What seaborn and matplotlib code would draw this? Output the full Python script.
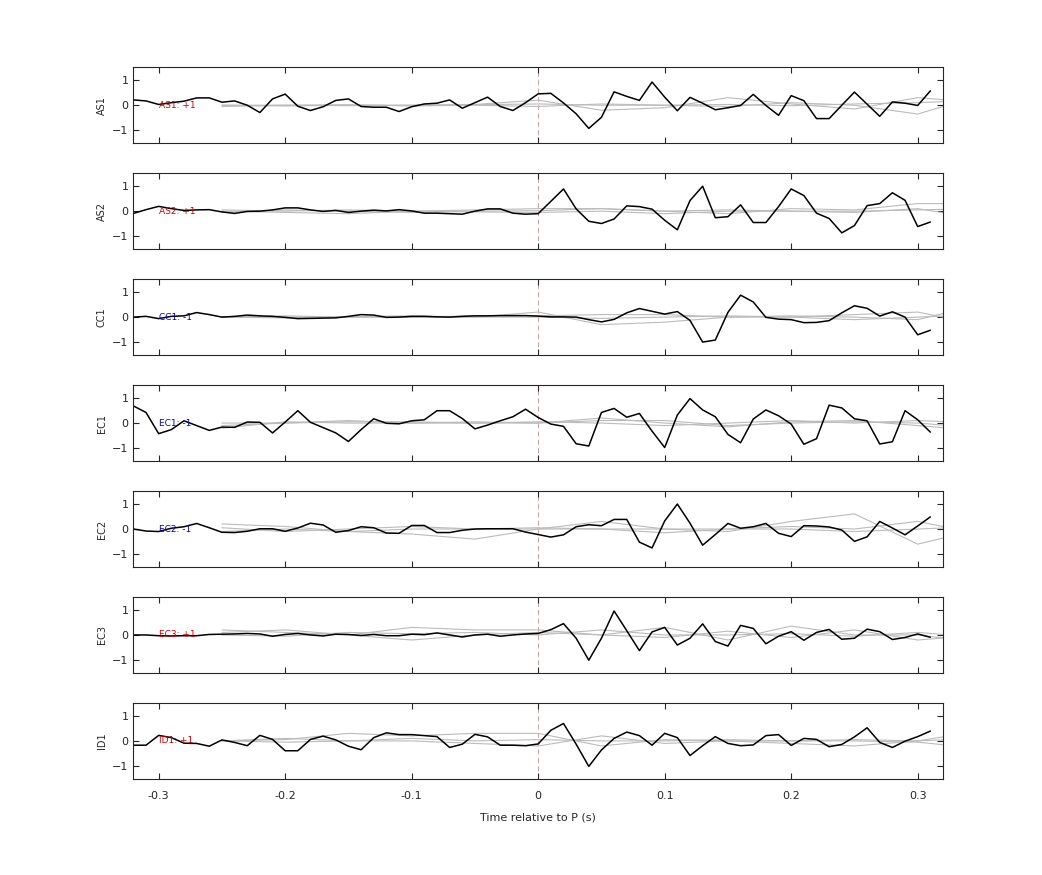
import numpy as np
import pandas as pd
import seaborn as sns
from matplotlib import pyplot as plt

# time axis, 0.01 s sampling
t = np.round(np.arange(-0.32, 0.315, 0.01), 2)
t_grey = np.round(np.arange(-0.25, 0.36, 0.05), 2)

stations = ["AS1", "AS2", "CC1", "EC1", "EC2", "EC3", "ID1"]
labels = ["AS1: +1", "AS2: +1", "CC1: -1", "EC1: -1", "EC2: -1", "EC3: +1", "ID1: +1"]
label_colors = ["#d00000", "#d00000", "#0000c0", "#0000c0", "#0000c0", "#d00000", "#d00000"]

AS1 = [0.21, 0.17, 0.03, 0.10, 0.16, 0.29, 0.29, 0.12, 0.17, 0.0, -0.29, 0.25, 0.44, -0.04, -0.21, -0.06,
       0.19, 0.25, -0.05, -0.08, -0.08, -0.25, -0.06, 0.05, 0.08, 0.21, -0.12, 0.10, 0.32, -0.05, -0.21, 0.10,
       0.45, 0.47, 0.09, -0.34, -0.92, -0.48, 0.53, 0.35, 0.19, 0.92, 0.32, -0.22, 0.31, 0.08, -0.18, -0.10,
       -0.01, 0.43, -0.01, -0.40, 0.38, 0.18, -0.53, -0.53, 0.0, 0.52, 0.04, -0.44, 0.13, 0.08, -0.01, 0.57]
AS2 = [-0.09, 0.06, 0.19, 0.10, 0.03, 0.05, 0.06, -0.03, -0.09, -0.01, 0.0, 0.05, 0.13, 0.13, 0.05, -0.01,
       0.03, -0.05, 0.0, 0.04, 0.01, 0.06, 0.01, -0.08, -0.08, -0.10, -0.12, 0.0, 0.09, 0.09, -0.08, -0.12,
       -0.10, 0.39, 0.88, 0.09, -0.40, -0.49, -0.31, 0.21, 0.18, 0.08, -0.36, -0.74, 0.42, 0.99, -0.26, -0.22,
       0.25, -0.45, -0.45, 0.18, 0.88, 0.62, -0.08, -0.29, -0.86, -0.57, 0.22, 0.30, 0.73, 0.43, -0.61, -0.43]
CC1 = [0.0, 0.03, -0.06, 0.03, 0.05, 0.18, 0.10, 0.0, 0.03, 0.08, 0.05, 0.03, -0.01, -0.06, -0.05, -0.04,
       -0.03, 0.03, 0.10, 0.08, -0.01, 0.0, 0.03, 0.03, 0.01, 0.0, 0.03, 0.05, 0.05, 0.06, 0.06, 0.06,
       0.04, 0.01, 0.01, 0.0, -0.10, -0.19, -0.09, 0.17, 0.34, 0.23, 0.12, 0.22, -0.13, -0.99, -0.91, 0.19,
       0.87, 0.60, -0.01, -0.08, -0.10, -0.22, -0.21, -0.14, 0.17, 0.45, 0.35, 0.04, 0.21, 0.0, -0.70, -0.52]
EC1 = [0.68, 0.42, -0.42, -0.26, 0.09, -0.10, -0.29, -0.16, -0.17, 0.04, 0.03, -0.39, 0.04, 0.49, 0.03, -0.18,
       -0.39, -0.73, -0.26, 0.17, -0.01, -0.03, 0.09, 0.13, 0.49, 0.49, 0.18, -0.23, -0.08, 0.09, 0.25, 0.55,
       0.22, -0.04, -0.13, -0.82, -0.91, 0.42, 0.58, 0.23, 0.38, -0.32, -0.97, 0.32, 0.97, 0.52, 0.25, -0.45,
       -0.78, 0.16, 0.52, 0.29, -0.04, -0.84, -0.62, 0.71, 0.60, 0.17, 0.09, -0.83, -0.74, 0.49, 0.13, -0.36]
EC2 = [0.0, -0.08, -0.10, 0.03, 0.09, 0.22, 0.05, -0.13, -0.14, -0.09, 0.01, 0.01, -0.09, 0.04, 0.23, 0.16,
       -0.13, -0.06, 0.09, 0.05, -0.16, -0.17, 0.14, 0.14, -0.14, -0.14, -0.05, 0.0, 0.01, 0.01, 0.01, -0.12,
       -0.22, -0.32, -0.23, 0.09, 0.17, 0.13, 0.38, 0.38, -0.52, -0.75, 0.32, 0.99, 0.23, -0.64, -0.22, 0.22,
       0.03, 0.09, 0.22, -0.17, -0.30, 0.13, 0.12, 0.08, -0.04, -0.49, -0.31, 0.30, 0.04, -0.23, 0.12, 0.48]
EC3 = [0.0, 0.0, -0.03, -0.04, -0.03, -0.03, 0.02, 0.03, 0.04, 0.06, 0.04, -0.05, 0.02, 0.06, 0.0, -0.04,
       0.03, 0.02, -0.02, 0.02, -0.03, -0.03, 0.03, 0.01, 0.08, 0.0, -0.08, 0.0, 0.03, -0.05, 0.0, 0.04,
       0.06, 0.21, 0.45, -0.13, -1.0, -0.13, 0.95, 0.17, -0.62, 0.12, 0.30, -0.40, -0.13, 0.44, -0.26, -0.44,
       0.38, 0.26, -0.35, -0.05, 0.13, -0.21, 0.10, 0.22, -0.17, -0.13, 0.23, 0.13, -0.18, -0.10, 0.04, -0.09]
ID1 = [-0.17, -0.17, 0.22, 0.13, -0.09, -0.10, -0.21, 0.04, -0.06, -0.19, 0.22, 0.06, -0.39, -0.39, 0.06, 0.19,
       0.04, -0.21, -0.35, 0.13, 0.32, 0.25, 0.25, 0.21, 0.17, -0.26, -0.13, 0.26, 0.16, -0.17, -0.17, -0.19,
       -0.12, 0.42, 0.69, -0.13, -1.01, -0.36, 0.10, 0.35, 0.21, -0.17, 0.30, 0.13, -0.58, -0.19, 0.17, -0.10,
       -0.19, -0.16, 0.21, 0.25, -0.18, 0.10, 0.06, -0.23, -0.14, 0.16, 0.52, -0.06, -0.26, -0.01, 0.17, 0.39]
traces = [AS1, AS2, CC1, EC1, EC2, EC3, ID1]

# grey synthetic traces, sampled every 0.05 s from -0.25
grey = {
    "AS1": [[0.0, 0.0, -0.02, 0.0, 0.03, 0.2, -0.2, -0.1, 0.3, 0.05, -0.15, 0.3, 0.1],
            [-0.05, 0.0, 0.02, -0.03, 0.0, -0.05, 0.05, 0.0, -0.05, 0.1, 0.0, -0.35, 0.4],
            [0.0, -0.03, 0.0, 0.0, 0.02, 0.05, 0.0, 0.0, 0.03, -0.02, 0.05, 0.1, 0.2]],
    "AS2": [[0.0, -0.05, -0.1, 0.0, 0.05, 0.1, 0.1, 0.0, -0.1, 0.1, 0.05, 0.3, 0.3],
            [-0.05, 0.05, 0.0, -0.05, 0.0, 0.02, 0.1, 0.0, 0.05, 0.0, -0.05, 0.1, -0.3],
            [0.05, 0.0, 0.05, 0.0, -0.03, -0.05, 0.0, -0.1, 0.0, 0.0, 0.0, 0.05, 0.1]],
    "CC1": [[0.0, 0.0, 0.02, 0.05, 0.0, 0.2, -0.3, -0.2, 0.0, 0.05, 0.0, -0.1, 0.5],
            [0.0, 0.05, 0.0, 0.0, 0.05, 0.05, 0.1, 0.1, 0.0, 0.0, 0.1, 0.2, -0.3],
            [0.0, -0.03, 0.0, 0.0, 0.0, 0.0, -0.05, 0.0, 0.05, 0.0, -0.1, 0.0, 0.1]],
    "EC1": [[-0.2, 0.05, 0.0, 0.0, 0.05, 0.0, 0.2, 0.0, -0.15, 0.05, 0.1, -0.1, -0.3],
            [0.0, 0.0, 0.1, 0.0, 0.0, 0.05, 0.0, -0.1, 0.0, 0.1, 0.0, 0.1, 0.0],
            [-0.1, 0.0, 0.05, 0.05, 0.0, 0.0, 0.1, 0.1, -0.1, 0.0, 0.05, 0.0, -0.2]],
    "EC2": [[0.2, 0.1, -0.1, -0.2, -0.4, 0.0, 0.3, 0.0, -0.1, 0.3, 0.6, -0.6, 0.0],
            [0.05, -0.1, 0.0, 0.1, 0.0, 0.0, 0.0, 0.0, 0.0, 0.1, 0.0, 0.3, -0.2],
            [-0.1, 0.0, -0.1, 0.0, 0.0, 0.05, 0.0, -0.15, 0.0, 0.0, -0.1, 0.0, 0.1]],
    "EC3": [[0.2, 0.1, 0.0, 0.3, 0.2, 0.2, 0.0, 0.3, -0.2, 0.35, 0.0, 0.0, -0.3],
            [0.1, 0.2, 0.0, -0.2, 0.0, 0.1, 0.0, -0.1, 0.15, -0.1, 0.2, -0.2, 0.0],
            [0.0, -0.05, 0.1, 0.05, 0.1, 0.0, 0.2, 0.0, 0.0, 0.05, -0.05, 0.1, -0.1]],
    "ID1": [[0.0, 0.05, 0.3, 0.2, 0.3, 0.3, -0.2, 0.05, 0.0, -0.1, -0.2, 0.0, 0.4],
            [0.0, 0.1, 0.0, 0.0, -0.1, -0.2, 0.2, -0.1, 0.0, 0.0, 0.0, -0.05, -0.3],
            [0.0, -0.05, 0.0, 0.1, 0.0, 0.05, 0.0, 0.0, 0.05, 0.0, 0.05, 0.0, 0.1]],
}

sns.set_style("ticks")
plt.rcParams["font.family"] = ["DejaVu Sans"]

fig, axes = plt.subplots(7, 1, figsize=(10.42, 8.75), dpi=100, sharex=True)
plt.subplots_adjust(left=0.128, right=0.905, top=0.923, bottom=0.110, hspace=0.4)

for i, ax in enumerate(axes):
    name = stations[i]
    for g in grey[name]:
        sns.lineplot(x=t_grey, y=g, ax=ax, color="#bbbbbb", linewidth=0.8)
    df = pd.DataFrame({"t": t, "v": traces[i]})
    sns.lineplot(data=df, x="t", y="v", ax=ax, color="black", linewidth=1.1)
    ax.axvline(0, color="#c09090", linestyle=(0, (6, 4)), linewidth=0.6, zorder=0)
    ax.text(-0.30, 0, labels[i], color=label_colors[i], fontsize=6.5, va="center", ha="left")
    ax.set_xlim(-0.32, 0.32)
    ax.set_ylim(-1.5, 1.5)
    ax.set_yticks([-1, 0, 1])
    ax.set_xticks([-0.3, -0.2, -0.1, 0, 0.1, 0.2, 0.3])
    ax.set_xticklabels(["-0.3", "-0.2", "-0.1", "0", "0.1", "0.2", "0.3"])
    ax.tick_params(direction="in", top=True, right=True, labelsize=8, length=4)
    ax.tick_params(axis="x", pad=9)
    ax.set_ylabel(name, fontsize=7)
    ax.set_xlabel("")
    for sp in ax.spines.values():
        sp.set_linewidth(0.8)

axes[-1].set_xlabel("Time relative to P (s)", fontsize=8, labelpad=8)
fig.savefig("out.png", dpi=100)
